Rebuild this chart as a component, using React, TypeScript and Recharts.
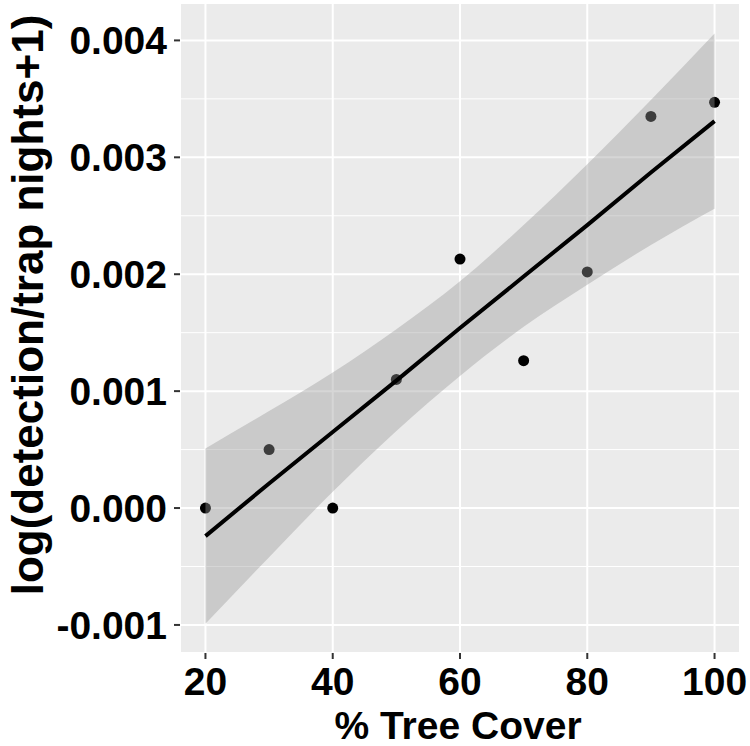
import React from 'react';
import { ComposedChart, XAxis, YAxis, CartesianGrid, Scatter, Area, Line } from 'recharts';

const treeCover = [20, 30, 40, 50, 60, 70, 80, 90, 100];
const detections = [0, 0.0005, 0, 0.0011, 0.00213, 0.00126, 0.00202, 0.00335, 0.00347];
const fitted = [-0.00024, 0.00021, 0.00065, 0.00109, 0.00154, 0.00198, 0.00242, 0.00287, 0.00331];
const bandLow = [-0.00099, -0.00042, 0.00014, 0.00066, 0.00113, 0.00155, 0.00191, 0.00225, 0.00256];
const bandHigh = [0.00051, 0.00083, 0.00116, 0.00153, 0.00194, 0.00242, 0.00294, 0.00349, 0.00406];

const xTicks = [20, 40, 60, 80, 100];
const xMinor = [30, 50, 70, 90];
const yTicks = [-0.001, 0, 0.001, 0.002, 0.003, 0.004];
const yMinor = [-0.0005, 0.0005, 0.0015, 0.0025, 0.0035];

const FONT = '"Liberation Sans", Arial, sans-serif';

const App = () => {
	const data = treeCover.map((x, i) => ({
		x,
		y: detections[i],
		fit: fitted[i],
		band: [bandLow[i], bandHigh[i]],
	}));

	const tickStyle = { fill: '#000', fontSize: 39, fontWeight: 'bold', fontFamily: FONT };

	// rotated y title, a bit above panel centre like the original
	const yTitle = (props) => {
		const { viewBox } = props;
		const cy = viewBox.y + viewBox.height / 2 - 23;
		return (
			<text
				x={43}
				y={cy}
				transform={`rotate(-90, 43, ${cy})`}
				textAnchor="middle"
				fontSize={44}
				fontWeight="bold"
				fontFamily={FONT}
				fill="#000"
			>
				log(detection/trap nights+1)
			</text>
		);
	};

	const xTitle = (props) => {
		const { viewBox } = props;
		return (
			<text
				x={viewBox.x + viewBox.width / 2 - 2}
				y={739}
				textAnchor="middle"
				fontSize={39}
				fontWeight="bold"
				fontFamily={FONT}
				fill="#000"
			>
				% Tree Cover
			</text>
		);
	};

	return (
		<div style={{ position: 'absolute', left: 0, top: 0 }}>
			<ComposedChart width={750} height={746} data={data} margin={{ top: 3, right: 10, bottom: 0, left: 0 }}>
				<CartesianGrid xAxisId="minor" yAxisId="minor" stroke="#fff" strokeWidth={1} fill="#EBEBEB" />
				<CartesianGrid stroke="#fff" strokeWidth={2} />
				<XAxis
					dataKey="x"
					type="number"
					domain={[16, 104]}
					allowDataOverflow
					ticks={xTicks}
					interval={0}
					axisLine={false}
					tickSize={6}
					tickMargin={8}
					tickLine={{ stroke: '#333', strokeWidth: 2 }}
					tick={tickStyle}
					height={93}
					label={{ content: xTitle }}
				/>
				<XAxis xAxisId="minor" type="number" domain={[16, 104]} allowDataOverflow ticks={xMinor} interval={0} hide />
				<YAxis
					type="number"
					domain={[-0.00124, 0.00432]}
					allowDataOverflow
					ticks={yTicks}
					interval={0}
					axisLine={false}
					tickSize={6}
					tickMargin={7}
					tickLine={{ stroke: '#333', strokeWidth: 2 }}
					tick={tickStyle}
					tickFormatter={(v) => v.toFixed(3)}
					width={180}
					label={{ content: yTitle }}
				/>
				<YAxis yAxisId="minor" type="number" domain={[-0.00124, 0.00432]} allowDataOverflow ticks={yMinor} interval={0} hide />
				<Scatter
					dataKey="y"
					zIndex={50}
					isAnimationActive={false}
					shape={(p) => <circle cx={p.cx} cy={p.cy} r={5.5} fill="#000" />}
				/>
				<Area
					dataKey="band"
					type="monotone"
					stroke="none"
					fill="#999999"
					fillOpacity={0.4}
					zIndex={100}
					isAnimationActive={false}
				/>
				<Line dataKey="fit" type="linear" stroke="#000" strokeWidth={4} dot={false} zIndex={400} isAnimationActive={false} />
			</ComposedChart>
		</div>
	);
};

export default App;
